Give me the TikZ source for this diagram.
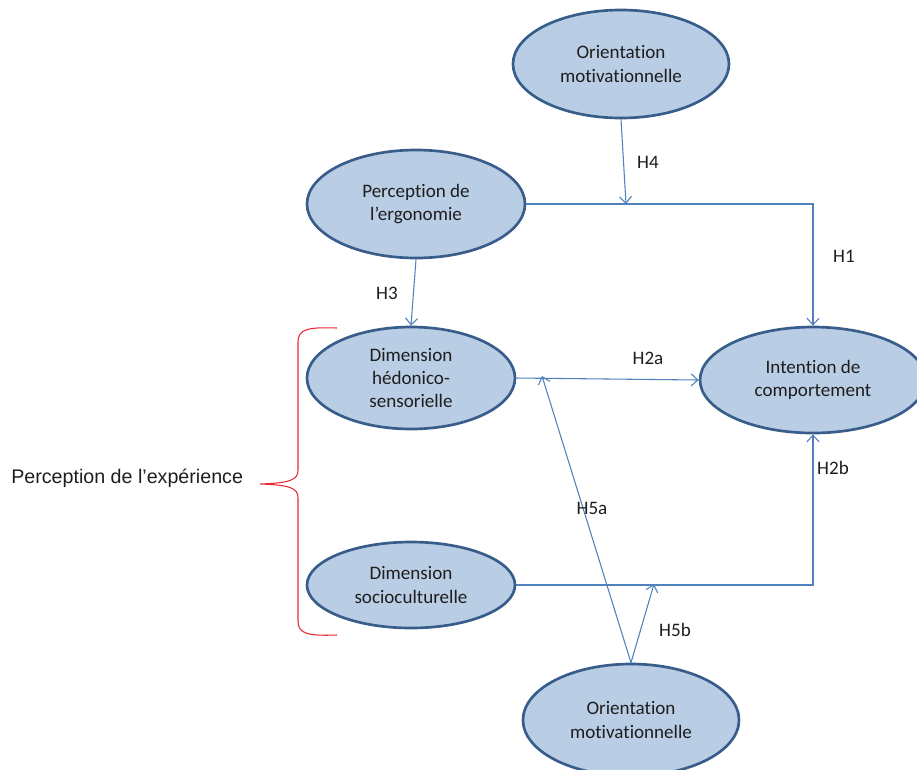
\documentclass[tikz,border=0pt]{standalone}
\usepackage{fontspec}
\setmainfont{Carlito}[Ligatures=NoCommon]
\newfontfamily\arialfont{Liberation Sans}
\usetikzlibrary{shapes.geometric,arrows.meta}

\definecolor{ovalfill}{RGB}{185,205,229}
\definecolor{ovaledge}{RGB}{56,93,138}
\definecolor{linkcol}{RGB}{79,129,189}
\definecolor{bracecol}{RGB}{232,40,50}
\definecolor{textcol}{RGB}{30,30,30}

\tikzset{
  oval/.style={ellipse, draw=ovaledge, line width=2pt, fill=ovalfill, inner sep=0pt,
    text=textcol, align=center, font=\fontsize{14.3}{17.3}\selectfont},
  link/.style={draw=linkcol, line width=0.8pt, -{Straight Barb[length=5pt,width=9pt]}},
  hlabel/.style={inner sep=0.75pt, text=textcol, font=\fontsize{14.3}{17.3}\selectfont}
}

\begin{document}
\begin{tikzpicture}[x=0.75pt,y=0.75pt,yscale=-1,xscale=1]
\useasboundingbox (0,0) rectangle (917,769);

%Shape: Ellipse [top moderator]
\node [oval, minimum width=162pt, minimum height=81pt] (orienttop) at (621,64) {Orientation\\motivationnelle};
%Shape: Ellipse [ergonomy]
\node [oval, minimum width=163.5pt, minimum height=81pt] (ergo) at (416,204) {Perception de\\l’ergonomie};
%Shape: Ellipse [hedonic]
\node [oval, minimum width=156pt, minimum height=76.5pt] (hedo) at (411,378) {Dimension\\hédonico-\\sensorielle};
%Shape: Ellipse [sociocultural]
\node [oval, minimum width=156pt, minimum height=64.5pt] (soci) at (411,585) {Dimension\\socioculturelle};
%Shape: Ellipse [intention]
\node [oval, minimum width=169.5pt, minimum height=79.5pt] (intent) at (813,380) {Intention de\\comportement};
%Shape: Ellipse [bottom moderator]
\node [oval, minimum width=162pt, minimum height=84pt] (orientbot) at (631,720) {Orientation\\motivationnelle};

% moderation targets on the links
\coordinate (hfour) at (626,204);
\coordinate (hfivea) at (542,376);
\coordinate (hfiveb) at (654,584);

%Straight Lines
\draw [link] (ergo.east) -| (intent.north);
\draw [link] (orienttop.south) -- (hfour);
\draw [link] (ergo.south) -- (hedo.north);
\draw [link] (hedo.east) -- (intent.west);
\draw [link] (soci.east) -| (intent.south);
\draw [link] (orientbot.north) -- (hfivea);
\draw [link] (orientbot.north) -- (hfiveb);

%Shape: Brace
\draw [bracecol, line width=0.8pt] (337,328) .. controls (308,327) and (298,329) .. (298,342) -- (298,470) .. controls (298,480) and (290,483) .. (260,484) .. controls (290,485) and (298,488) .. (298,498) -- (298,621) .. controls (298,634) and (308,636) .. (337,635);

% Text Node
\node [hlabel] (lone) at (844,256) {H1};
% Text Node
\node [hlabel] (ltwoa) at (648,358) {H2a};
% Text Node
\node [hlabel] (ltwob) at (833,468) {H2b};
% Text Node
\node [hlabel] (lthree) at (387,293) {H3};
% Text Node
\node [hlabel] (lfour) at (648,162) {H4};
% Text Node
\node [hlabel] (lfivea) at (592,508) {H5a};
% Text Node
\node [hlabel] (lfiveb) at (675,630) {H5b};
% Text Node
\node [hlabel, anchor=west, font=\arialfont\fontsize{14.75}{17}\selectfont] (experience) at (10,478) {Perception de l’expérience};
\end{tikzpicture}
\end{document}
